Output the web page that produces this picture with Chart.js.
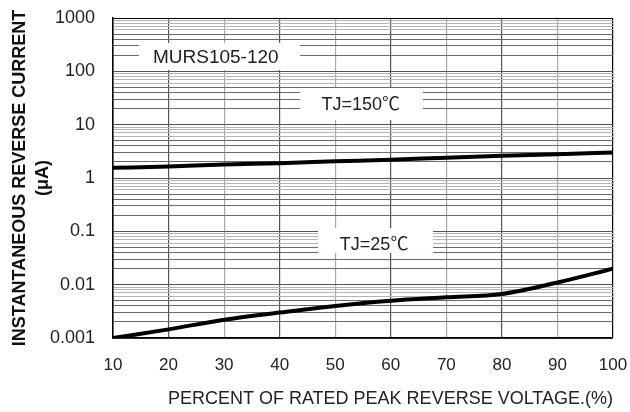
<!DOCTYPE html>
<html>
<head>
<meta charset="utf-8">
<script src="https://cdn.jsdelivr.net/npm/chart.js@4/dist/chart.umd.min.js"></script>
<style>
  html, body { margin: 0; padding: 0; background: #fff; }
  #wrap { width: 630px; height: 412px; }
</style>
</head>
<body>
<div id="wrap"><canvas id="chart"></canvas></div>
<script>
// Reverse current vs. percent of rated peak reverse voltage
const percentRated = [10, 20, 30, 40, 50, 60, 70, 80, 90, 100];
const currentTj150 = [1.55, 1.65, 1.8, 1.9, 2.05, 2.2, 2.4, 2.6, 2.8, 3.0];
const currentTj25 = [0.001, 0.00145, 0.0022, 0.003, 0.004, 0.005, 0.0058, 0.0067, 0.011, 0.02];

const yDecades = [0.001, 0.01, 0.1, 1, 10, 100, 1000];
const yMinorSteps = [2, 3, 4, 5, 6, 7, 8, 9];
const xTicks = [10, 20, 30, 40, 50, 60, 70, 80, 90, 100];

// text notes with their white backing boxes, in data units
const notes = [
    { text: 'MURS105-120', x: 28.5, y: 178, x0: 14.7, x1: 43.7, y0: 106, y1: 340, size: 19 },
    { text: 'TJ=150\u2103', x: 54.6, y: 23.4, x0: 43.7, x1: 65.8, y0: 12.2, y1: 48.7, size: 18 },
    { text: 'TJ=25\u2103', x: 57, y: 0.0555, x0: 46.9, x1: 67.6, y0: 0.0393, y1: 0.1155, size: 18 }
];

const FONT = "'Liberation Sans', Arial, 'Noto Sans CJK SC', sans-serif";

// all grid values for the log axis
const yTickValues = [];
yDecades.forEach((d, i) => {
    yTickValues.push(d);
    if (i < yDecades.length - 1) {
        yMinorSteps.forEach(k => yTickValues.push(+(k * d).toPrecision(3)));
    }
});

function yGridColor(ctx) {
    const v = ctx.tick.value;
    if (yDecades.includes(v)) return (v === 1000) ? '#000' : '#555';
    const k = Math.round(v / Math.pow(10, Math.floor(Math.log10(v) + 1e-9)));
    return k >= 6 ? '#b4b4b4' : '#6a6a6a';
}

function xGridColor(ctx) {
    const v = ctx.tick.value;
    if (v === 10 || v === 100) return '#000';
    return (v / 10) % 2 === 1 ? '#a8a8a8' : '#555';
}

const notesPlugin = {
    id: 'notes',
    beforeDatasetsDraw(chart) {
        const { ctx, scales: { x, y } } = chart;
        ctx.save();
        notes.forEach(n => {
            const left = x.getPixelForValue(n.x0);
            const right = x.getPixelForValue(n.x1);
            const top = y.getPixelForValue(n.y1);
            const bottom = y.getPixelForValue(n.y0);
            ctx.fillStyle = '#fff';
            ctx.fillRect(left, top, right - left, bottom - top);
        });
        notes.forEach(n => {
            ctx.fillStyle = '#222';
            ctx.font = n.size + 'px ' + FONT;
            ctx.textAlign = 'center';
            ctx.textBaseline = 'middle';
            ctx.fillText(n.text, x.getPixelForValue(n.x), y.getPixelForValue(n.y));
        });
        ctx.restore();
    }
};

new Chart(document.getElementById('chart'), {
    type: 'line',
    data: {
        datasets: [{
            label: 'TJ=150\u2103',
            data: percentRated.map((p, i) => ({ x: p, y: currentTj150[i] })),
            borderColor: '#000',
            borderWidth: 4,
            pointRadius: 0,
            cubicInterpolationMode: 'monotone'
        }, {
            label: 'TJ=25\u2103',
            data: percentRated.map((p, i) => ({ x: p, y: currentTj25[i] })),
            borderColor: '#000',
            borderWidth: 4,
            pointRadius: 0,
            cubicInterpolationMode: 'monotone'
        }]
    },
    options: {
        responsive: true,
        maintainAspectRatio: false,
        animation: false,
        layout: { padding: { left: 8, top: 18, right: 17, bottom: 2 } },
        plugins: {
            legend: { display: false },
            tooltip: { enabled: false }
        },
        scales: {
            x: {
                type: 'linear',
                min: 10,
                max: 100,
                afterBuildTicks: scale => { scale.ticks = xTicks.map(v => ({ value: v })); },
                afterFit: scale => {
                    scale.height = 72;
                    scale.paddingLeft = 0;
                    scale.paddingRight = 0;
                },
                grid: { color: xGridColor, lineWidth: 1.2, drawTicks: false },
                border: { display: true, color: '#000', width: 1.5 },
                ticks: {
                    padding: 17,
                    color: '#222',
                    font: { family: FONT, size: 17 },
                    maxRotation: 0,
                    autoSkip: false
                },
                title: {
                    display: true,
                    text: 'PERCENT OF RATED PEAK REVERSE VOLTAGE.(%)',
                    align: 'end',
                    color: '#222',
                    padding: { top: 0, bottom: 0 },
                    font: { family: FONT, size: 18 }
                }
            },
            y: {
                type: 'logarithmic',
                min: 0.001,
                max: 1000,
                afterBuildTicks: scale => { scale.ticks = yTickValues.map(v => ({ value: v })); },
                afterFit: scale => {
                    scale.width = 105;
                    scale.paddingTop = 0;
                    scale.paddingBottom = 0;
                },
                grid: { color: yGridColor, lineWidth: 1, drawTicks: false },
                border: { display: true, color: '#000', width: 1.5 },
                ticks: {
                    padding: 18,
                    color: '#222',
                    autoSkip: false,
                    font: { family: FONT, size: 18 },
                    callback: v => yDecades.includes(v) ? String(v) : ''
                },
                title: {
                    display: true,
                    text: ['INSTANTANEOUS REVERSE CURRENT', '(\u03bcA)'],
                    color: '#111',
                    padding: { top: 1, bottom: 0 },
                    font: { family: FONT, size: 18, weight: 'bold', lineHeight: 1.25 }
                }
            }
        }
    },
    plugins: [notesPlugin]
});
</script>
</body>
</html>
